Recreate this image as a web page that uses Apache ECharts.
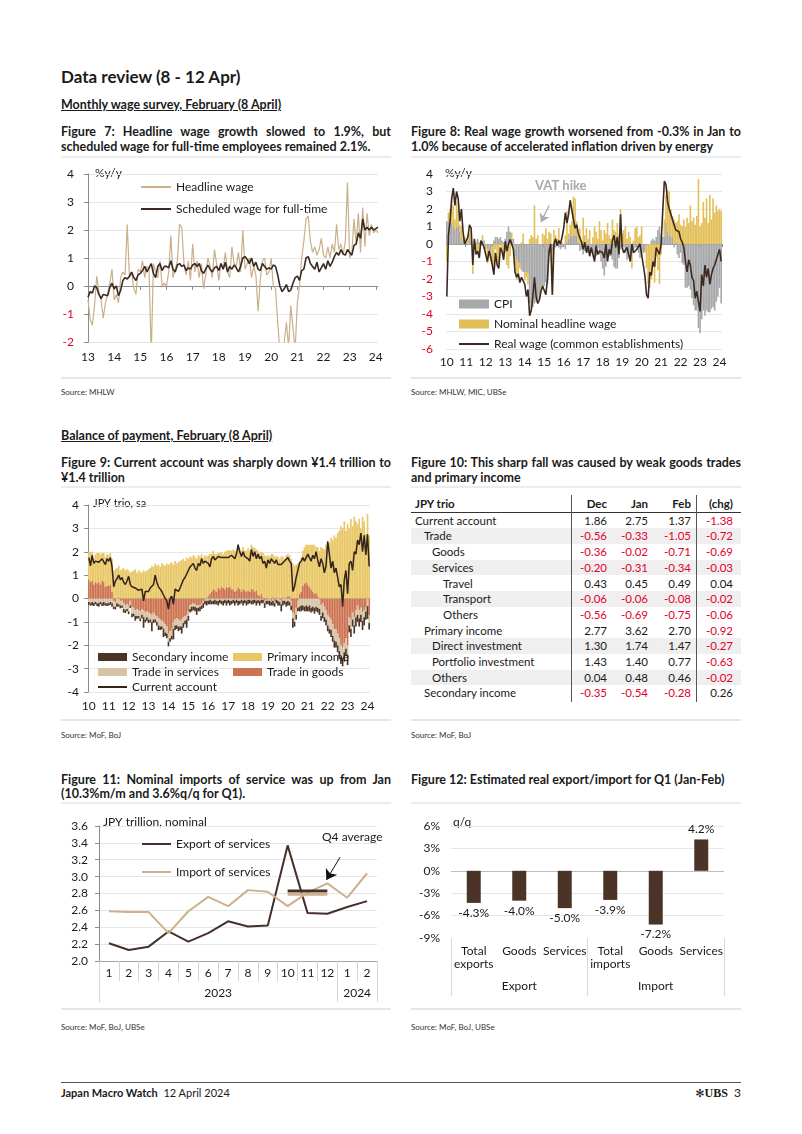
<!DOCTYPE html>
<html><head><meta charset="utf-8">
<script src="https://cdn.jsdelivr.net/npm/echarts@6/dist/echarts.min.js"></script>
<style>
body{margin:0;background:#fff;font-family:Lato,"Noto Sans",sans-serif;color:#1a1a1a;}
#page{position:relative;width:802px;height:1134px;overflow:hidden;background:#fff;}
.a{position:absolute;white-space:nowrap;}
.h1{font-size:17px;font-weight:bold;line-height:20px;}
.h2{font-size:12.5px;font-weight:bold;text-decoration:underline;line-height:15px;}
.ft{font-size:12.5px;font-weight:bold;line-height:15px;width:330px;}
.j{text-align:justify;text-align-last:justify;}
.rule{position:absolute;height:2px;background:#ececec;width:330px;}
.rule2{position:absolute;height:2px;background:#e6e6e6;width:330px;}
.src{font-size:8px;color:#333;line-height:10px;}
.chart{position:absolute;}
#tbl{position:absolute;left:411px;top:496px;width:330px;font-size:11.5px;}
.row{position:absolute;left:0;width:330px;height:15.7px;line-height:15.7px;}
.cell{position:absolute;top:0;text-align:right;}
</style></head>
<body><div id="page">
<div class="a h1" style="left:61px;top:67px;">Data review (8 - 12 Apr)</div>
<div class="a h2" style="left:61px;top:97px;">Monthly wage survey, February (8 April)</div>
<div class="a ft j" style="left:61px;top:124px;">Figure 7: Headline wage growth slowed to 1.9%, but</div>
<div class="a ft" style="left:61px;top:139px;">scheduled wage for full-time employees remained 2.1%.</div>
<div class="a ft j" style="left:411px;top:124px;">Figure 8: Real wage growth worsened from -0.3% in Jan to</div>
<div class="a ft" style="left:411px;top:139px;">1.0% because of accelerated inflation driven by energy</div>
<div class="rule" style="left:61px;top:156px;"></div>
<div class="rule" style="left:411px;top:156px;"></div>
<div id="c7" class="chart" style="left:55px;top:160px;width:345px;height:217px;"></div>
<div id="c8" class="chart" style="left:405px;top:160px;width:345px;height:217px;"></div>
<div class="rule2" style="left:61px;top:377px;"></div>
<div class="rule2" style="left:411px;top:377px;"></div>
<div class="a src" style="left:61px;top:387px;">Source: MHLW</div>
<div class="a src" style="left:411px;top:387px;">Source: MHLW, MIC, UBSe</div>

<div class="a h2" style="left:61px;top:428px;">Balance of payment, February (8 April)</div>
<div class="a ft j" style="left:61px;top:455px;">Figure 9: Current account was sharply down ¥1.4 trillion to</div>
<div class="a ft" style="left:61px;top:469.5px;">¥1.4 trillion</div>
<div class="a ft j" style="left:411px;top:455px;">Figure 10: This sharp fall was caused by weak goods trades</div>
<div class="a ft" style="left:411px;top:469.5px;">and primary income</div>
<div class="rule" style="left:61px;top:486px;"></div>
<div class="rule" style="left:411px;top:486px;"></div>
<div id="c9" class="chart" style="left:55px;top:490px;width:345px;height:228px;"></div>
<div id="tbl"></div>
<div class="rule2" style="left:61px;top:719px;"></div>
<div class="rule2" style="left:411px;top:719px;"></div>
<div class="a src" style="left:61px;top:730px;">Source: MoF, BoJ</div>
<div class="a src" style="left:411px;top:730px;">Source: MoF, BoJ</div>

<div class="a ft j" style="left:61px;top:771.5px;">Figure 11: Nominal imports of service was up from Jan</div>
<div class="a ft" style="left:61px;top:786px;">(10.3%m/m and 3.6%q/q for Q1).</div>
<div class="a ft" style="left:411px;top:771.5px;">Figure 12: Estimated real export/import for Q1 (Jan-Feb)</div>
<div class="rule" style="left:61px;top:802px;"></div>
<div class="rule" style="left:411px;top:802px;"></div>
<div id="c11" class="chart" style="left:55px;top:806px;width:345px;height:202px;"></div>
<div id="c12" class="chart" style="left:405px;top:806px;width:345px;height:202px;"></div>
<div class="rule2" style="left:61px;top:1008px;"></div>
<div class="rule2" style="left:411px;top:1008px;"></div>
<div class="a src" style="left:61px;top:1022px;">Source: MoF, BoJ, UBSe</div>
<div class="a src" style="left:411px;top:1022px;">Source: MoF, BoJ, UBSe</div>

<div style="position:absolute;left:61px;top:1082px;width:680px;height:1px;background:#555;"></div>
<div class="a" style="left:61px;top:1086px;font-size:11px;line-height:14px;"><b>Japan Macro Watch</b>&nbsp;&nbsp;12 April 2024</div>
<div class="a" style="right:61px;top:1085px;font-size:12px;line-height:15px;"><span style="font-family:'DejaVu Sans';font-size:11px;">✻</span><b style="font-family:'Liberation Serif';">UBS</b>&nbsp;&nbsp;3</div>
</div>
<script>
// ---------- DATA ----------
// Figure 7 (monthly, Jan 2013 - Feb 2024), %y/y
const headline7 = [].concat(
 [-0.5,-1.2,-1.4,-0.7,0.35,-0.2,-0.5,-1.15,-0.6,-0.3,0.1,0.6],
 [-0.5,-0.3,-0.6,0.3,0.5,0.4,2.2,0.3,0.5,-0.1,-0.3,0.6],
 [0.5,0.9,0.3,0.7,0.6,-2.5,0.8,0.5,0.3,0.9,0.0,0.1],
 [0.0,0.5,1.8,0.3,0.6,0.9,2.2,2.1,0.8,0.4,0.9,0.2],
 [1.5,0.5,0.9,0.3,0.8,-0.1,0.4,1.0,0.7,0.3,1.3,0.8],
 [0.2,0.8,0.6,1.2,0.5,0.3,1.4,0.8,0.7,1.2,0.5,2.0],
 [0.6,0.8,1.0,0.3,0.7,0.4,-0.9,0.2,0.9,1.0,0.4,0.5],
 [1.0,0.0,-0.1,-1.3,-2.3,-2.5,-2.0,-1.3,-2.2,-0.7,-1.5,-2.3],
 [-0.6,0.0,1.0,1.6,2.4,2.5,1.6,1.2,1.4,1.1,1.3,1.7],
 [1.1,1.0,1.4,1.0,1.5,1.2,2.2,1.3,1.5,1.1,1.6,3.7],
 [1.0,1.2,2.4,1.5,2.6,1.2,2.8,1.4,2.6,1.8,2.2,1.9],
 [2.0,1.9]);
const scheduled7 = [].concat(
 [-0.4,-0.2,-0.25,0.0,-0.05,-0.3,-0.45,-0.3,-0.32,-0.35,-0.05,0.1],
 [-0.1,0.0,-0.35,-0.15,0.2,0.3,0.25,0.35,0.5,0.3,0.2,0.4],
 [0.45,0.55,0.7,0.5,0.65,0.8,0.45,0.3,0.7,0.8,0.55,0.7],
 [0.7,0.65,0.9,0.6,0.5,0.75,0.8,0.7,0.75,0.55,0.65,0.6],
 [0.75,0.8,0.7,0.8,0.55,0.45,0.6,0.75,0.6,0.5,0.65,0.7],
 [0.55,0.8,0.6,0.85,0.5,0.7,0.6,0.75,0.65,0.5,0.7,1.0],
 [1.05,0.95,0.8,1.0,0.7,0.85,0.6,0.55,0.8,0.7,0.6,0.65],
 [0.6,0.75,0.7,0.4,0.0,-0.2,-0.1,0.05,-0.2,-0.15,0.1,0.3],
 [0.35,0.2,0.55,0.6,1.0,1.05,0.8,0.7,0.6,0.85,0.5,0.65],
 [0.8,0.6,0.9,0.7,0.85,1.05,1.2,1.1,1.3,1.15,1.1,1.3],
 [1.2,1.1,1.45,1.5,1.9,1.7,2.4,2.0,2.1,2.0,2.1,2.0],
 [2.05,2.1]);

// Figure 8 (monthly, Jan 2010 - Feb 2024), %y/y
const nominalPre2013 = [].concat(
 [-1.0,0.5,0.8,1.5,1.2,0.6,1.4,1.0,0.4,0.9,0.3,0.1],
 [0.2,0.5,0.3,0.6,-1.7,0.2,-0.3,-0.4,-0.5,0.1,0.3,-0.3],
 [-0.2,-0.8,-0.3,-0.5,-0.9,-1.5,-0.3,-1.0,-1.2,-0.1,-0.3,-0.8]);
const nominal8 = nominalPre2013.concat(headline7);
const cpi8 = [].concat(
 [1.3,1.3,1.2,1.2,1.0,0.8,1.0,1.0,0.7,0.1,0.3,0.3],
 [0.1,0.0,0.3,0.2,0.0,-0.2,0.1,0.3,0.1,-0.1,0.2,0.2],
 [-0.1,-0.3,-0.5,-0.5,-0.2,0.2,0.4,0.4,0.3,0.4,0.2,0.1],
 [0.3,0.7,1.0,0.7,0.3,0.3,-0.7,-0.9,-1.1,-1.1,-1.5,-1.6],
 [-1.6,-1.6,-1.7,-3.4,-3.7,-3.6,-3.4,-3.3,-3.2,-2.9,-2.4,-2.4],
 [-2.4,-2.2,-2.3,-0.6,-0.5,-0.4,-0.3,-0.2,0.0,-0.2,-0.3,-0.2],
 [-0.1,-0.3,0.1,0.3,0.5,0.4,0.5,0.5,0.5,0.1,-0.4,-0.3],
 [-0.6,-0.4,-0.3,-0.5,-0.5,-0.4,-0.5,-0.7,-0.7,-0.2,-0.6,-1.0],
 [-1.4,-1.8,-1.3,-0.7,-0.7,-0.7,-0.9,-1.3,-1.4,-1.4,-0.8,-0.3],
 [-0.2,-0.2,-0.5,-0.9,-0.7,-0.7,-0.5,-0.3,-0.2,-0.2,-0.5,-0.8],
 [-0.7,-0.5,-0.4,-0.1,0.0,0.0,0.2,0.3,0.2,0.4,0.8,1.0],
 [0.6,0.4,0.4,1.2,0.7,0.5,0.4,0.4,-0.2,0.1,-0.6,-0.8],
 [-0.5,-1.1,-1.2,-2.5,-2.5,-2.4,-2.6,-3.1,-3.5,-3.8,-3.8,-4.8],
 [-5.1,-4.3,-3.8,-4.1,-3.8,-3.9,-3.9,-3.7,-3.6,-3.8,-3.3,-3.0],
 [-2.5,-3.4]);
const real8 = [].concat(
 [-3.0,0.5,1.3,2.6,3.2,2.2,3.0,2.6,1.3,2.0,0.7,0.0],
 [-0.1,0.4,1.1,0.9,-1.2,0.3,-0.6,-0.4,-0.8,0.2,0.2,-0.2],
 [-0.2,-1.0,-0.4,-0.7,-1.2,-1.75,-0.5,-1.2,-1.4,-0.2,-0.4,-0.9],
 [0.15,-0.4,0.0,0.25,0.0,-0.3,-1.6,-1.9,-1.7,-2.2,-1.9,-2.1],
 [-2.3,-3.0,-2.6,-4.1,-3.8,-3.0,-1.9,-3.0,-3.4,-3.2,-2.7,-2.4],
 [-2.5,-2.9,-2.0,-0.4,0.0,-2.9,0.0,0.3,-0.1,0.2,0.0,0.4],
 [0.9,1.8,1.2,1.7,2.5,2.4,1.4,0.9,1.1,0.6,0.5,0.1],
 [-0.3,0.1,-0.5,-0.1,-0.7,-0.2,-0.6,-1.0,-0.1,-0.6,-0.4,-0.5],
 [-0.5,-0.8,0.0,-1.0,-0.3,-0.6,0.2,0.5,-0.2,0.4,-0.6,1.7],
 [-0.2,-0.5,-0.6,-0.2,-0.6,-1.0,0.0,-0.5,-0.5,-0.3,-0.2,0.0],
 [-0.1,-1.2,-1.8,-2.9,-3.1,-1.6,-1.8,-1.0,-1.3,-0.2,-0.4,-0.6],
 [0.0,1.9,3.6,3.4,2.4,2.0,1.7,1.4,1.1,0.8,0.9,0.7],
 [0.3,0.1,-0.2,-1.0,-1.6,-0.9,-1.2,-1.9,-2.1,-3.1,-2.7,-3.3],
 [-3.85,-1.75,-2.4,-1.2,-1.9,-1.4,-2.3,-1.75,-1.4,-1.2,-0.9,-1.0],
 [-0.3,-1.0]);

// Figure 9 (monthly, Jan 2010 - Feb 2024), JPY trillion sa
const goods9 = [].concat(
 [0.8,0.7,0.75,0.6,0.7,0.65,0.7,0.6,0.75,0.7,0.5,0.55],
 [0.55,0.6,0.3,-0.1,-0.15,0.0,0.05,-0.1,-0.1,-0.2,-0.3,-0.25],
 [-0.3,-0.1,-0.35,-0.4,-0.5,-0.45,-0.5,-0.55,-0.45,-0.5,-0.6,-0.55],
 [-0.6,-0.65,-0.7,-0.6,-0.7,-0.75,-0.85,-0.9,-0.95,-1.0,-1.1,-1.2],
 [-1.5,-1.4,-1.3,-1.0,-0.9,-0.85,-0.9,-0.95,-0.9,-0.8,-0.75,-0.7],
 [-0.55,-0.3,-0.25,-0.2,-0.25,-0.3,-0.3,-0.3,-0.2,-0.1,-0.05,0.0],
 [0.1,0.2,0.3,0.4,0.35,0.3,0.45,0.4,0.5,0.45,0.4,0.5],
 [0.45,0.5,0.4,0.4,0.3,0.35,0.45,0.4,0.3,0.4,0.35,0.3],
 [0.35,0.3,0.4,0.4,0.3,0.35,0.15,0.1,0.2,0.05,-0.1,-0.05],
 [-0.05,0.0,-0.1,0.05,-0.1,0.05,0.0,-0.05,-0.1,0.05,0.0,0.05],
 [0.1,0.1,-0.1,-0.6,-0.7,-0.4,-0.1,0.2,0.3,0.55,0.65,0.7],
 [0.6,0.5,0.4,0.3,0.2,0.25,0.1,-0.05,-0.3,-0.2,-0.35,-0.5],
 [-0.7,-0.8,-0.9,-1.1,-1.3,-1.3,-1.5,-1.7,-2.0,-2.1,-1.9,-1.7],
 [-2.0,-0.8,-0.9,-0.6,-0.8,-0.5,-0.3,-0.5,-0.4,-0.6,-0.5,-0.36],
 [-0.02,-0.71]);
const services9 = [].concat(
 [-0.15,-0.2,-0.15,-0.2,-0.15,-0.2,-0.2,-0.15,-0.2,-0.15,-0.2,-0.2],
 [-0.2,-0.15,-0.2,-0.25,-0.2,-0.2,-0.25,-0.2,-0.2,-0.25,-0.2,-0.2],
 [-0.25,-0.2,-0.3,-0.25,-0.25,-0.3,-0.25,-0.3,-0.25,-0.3,-0.3,-0.25],
 [-0.3,-0.25,-0.3,-0.3,-0.2,-0.25,-0.3,-0.3,-0.25,-0.3,-0.35,-0.3],
 [-0.35,-0.3,-0.3,-0.3,-0.25,-0.3,-0.3,-0.25,-0.3,-0.25,-0.2,-0.2],
 [-0.2,-0.15,-0.1,-0.15,-0.1,-0.1,-0.1,-0.05,-0.1,-0.1,-0.05,-0.1],
 [-0.1,-0.05,-0.1,-0.1,-0.05,-0.1,-0.1,-0.05,-0.1,-0.1,-0.05,-0.1],
 [-0.05,-0.1,-0.1,-0.05,-0.1,-0.05,-0.1,-0.1,-0.05,-0.1,-0.05,-0.1],
 [-0.05,-0.05,-0.1,-0.05,-0.05,-0.1,-0.05,-0.1,-0.05,-0.05,-0.1,-0.05],
 [-0.05,-0.1,-0.05,-0.1,-0.1,-0.05,-0.1,-0.1,-0.15,-0.1,-0.1,-0.15],
 [-0.1,-0.15,-0.2,-0.25,-0.3,-0.3,-0.3,-0.35,-0.3,-0.3,-0.35,-0.3],
 [-0.35,-0.3,-0.4,-0.35,-0.4,-0.35,-0.4,-0.4,-0.45,-0.4,-0.45,-0.4],
 [-0.45,-0.5,-0.45,-0.5,-0.5,-0.55,-0.5,-0.55,-0.5,-0.45,-0.4,-0.45],
 [-0.4,-0.35,-0.4,-0.3,-0.35,-0.3,-0.4,-0.35,-0.3,-0.35,-0.3,-0.2],
 [-0.31,-0.34]);
const primary9 = [].concat(
 [1.2,1.3,1.25,1.1,1.2,1.3,1.25,1.3,1.2,1.25,1.3,1.35],
 [1.3,1.35,1.4,1.2,1.25,1.3,1.35,1.2,1.25,1.3,1.2,1.25],
 [1.2,1.1,1.15,1.2,1.25,1.1,1.2,1.15,1.1,1.2,1.15,1.2],
 [1.25,1.3,1.4,1.35,1.5,1.4,1.45,1.35,1.5,1.45,1.4,1.5],
 [1.45,1.5,1.55,1.45,1.6,1.5,1.55,1.6,1.65,1.7,1.6,1.75],
 [1.7,1.8,1.75,1.85,1.8,1.7,1.85,1.8,1.9,1.75,1.85,1.8],
 [1.75,1.7,1.6,1.65,1.55,1.6,1.5,1.55,1.5,1.45,1.6,1.55],
 [1.6,1.55,1.65,1.7,1.75,1.65,1.85,1.7,1.75,1.8,1.7,1.75],
 [1.8,1.75,1.9,1.8,1.85,1.75,1.9,1.85,1.8,1.9,1.85,1.8],
 [1.85,1.8,1.9,1.85,1.8,1.75,1.8,1.7,1.8,1.75,1.7,1.8],
 [1.8,1.75,1.7,1.5,1.4,1.45,1.5,1.4,1.45,1.5,1.55,1.6],
 [1.7,1.8,1.9,2.0,2.1,1.95,2.1,2.05,2.2,2.15,2.1,2.3],
 [2.2,2.4,2.6,2.5,2.7,2.6,2.8,2.9,3.1,3.0,3.3,2.9],
 [3.2,3.0,3.4,3.1,3.5,3.3,3.2,3.4,3.0,3.5,3.3,2.77],
 [3.62,2.70]);
const secondary9 = [].concat(
 [-0.12,-0.1,-0.15,-0.12,-0.1,-0.12,-0.15,-0.1,-0.12,-0.15,-0.1,-0.12],
 [-0.1,-0.12,-0.15,-0.1,-0.12,-0.15,-0.1,-0.12,-0.1,-0.15,-0.12,-0.1],
 [-0.12,-0.1,-0.15,-0.12,-0.2,-0.12,-0.1,-0.12,-0.15,-0.45,-0.12,-0.15],
 [-0.15,-0.12,-0.4,-0.15,-0.12,-0.15,-0.2,-0.15,-0.12,-0.35,-0.15,-0.2],
 [-0.2,-0.15,-0.15,-0.45,-0.2,-0.15,-0.2,-0.15,-0.3,-0.2,-0.15,-0.35],
 [-0.2,-0.15,-0.2,-0.15,-0.2,-0.3,-0.15,-0.2,-0.15,-0.2,-0.15,-0.2],
 [-0.15,-0.2,-0.15,-0.15,-0.2,-0.15,-0.2,-0.15,-0.15,-0.2,-0.15,-0.2],
 [-0.15,-0.2,-0.15,-0.15,-0.2,-0.15,-0.2,-0.15,-0.15,-0.2,-0.15,-0.2],
 [-0.2,-0.15,-0.15,-0.2,-0.15,-0.2,-0.15,-0.2,-0.15,-0.15,-0.2,-0.15],
 [-0.15,-0.2,-0.15,-0.2,-0.15,-0.15,-0.2,-0.15,-0.3,-0.2,-0.15,-0.2],
 [-0.2,-0.15,-0.2,-0.4,-0.2,-0.2,-0.15,-0.2,-0.25,-0.2,-0.2,-0.25],
 [-0.2,-0.25,-0.2,-0.2,-0.25,-0.2,-0.2,-0.25,-0.2,-0.25,-0.2,-0.25],
 [-0.25,-0.2,-0.3,-0.25,-0.3,-0.25,-0.3,-0.35,-0.3,-0.35,-0.4,-0.3],
 [-0.45,-0.3,-0.35,-0.3,-0.35,-0.4,-0.3,-0.35,-0.3,-0.4,-0.35,-0.35],
 [-0.54,-0.28]);
const current9 = [].concat(
 [1.75,1.4,1.85,1.5,1.6,1.65,1.55,1.6,1.7,1.65,1.45,1.7],
 [1.6,1.75,1.35,0.5,0.75,0.85,1.0,0.8,0.9,0.7,0.6,0.75],
 [0.95,0.6,0.5,0.55,0.45,0.5,0.35,0.3,0.4,-0.1,0.3,0.35],
 [0.3,0.45,0.4,0.6,1.0,0.7,0.5,0.4,0.3,0.15,0.0,-0.1],
 [-0.45,0.0,0.1,-0.25,0.4,0.35,0.3,0.45,0.5,0.8,0.9,1.05],
 [1.0,1.35,1.3,1.5,1.3,1.2,1.5,1.4,1.7,1.5,1.6,1.55],
 [1.5,1.35,1.7,1.8,1.65,1.7,1.8,1.75,1.75,1.7,1.75,1.8],
 [1.75,1.7,1.85,1.8,1.7,1.9,2.3,2.0,1.8,2.0,1.8,1.75],
 [1.7,1.6,2.1,1.8,2.0,1.7,1.9,1.7,1.8,1.5,1.6,1.3],
 [1.65,1.5,1.7,1.6,1.5,1.65,1.45,1.5,1.45,1.5,1.6,1.65],
 [1.75,1.6,1.5,0.3,0.5,0.9,1.2,1.5,1.6,1.75,1.6,1.55],
 [1.9,1.75,1.6,1.85,1.7,2.0,1.65,1.35,1.7,1.5,1.1,1.4],
 [2.45,1.9,1.3,1.6,1.1,1.3,0.9,0.5,0.6,-0.35,0.8,1.2],
 [0.2,1.5,1.6,1.2,2.0,1.9,2.5,2.3,2.8,2.0,2.7,1.86],
 [2.75,1.37]);

// Figure 10 table
const tblLabels = ['Current account','Trade','Goods','Services','Travel','Transport','Others','Primary income','Direct investment','Portfolio investment','Others','Secondary income'];
const tblLevel  = [0,1,2,2,3,3,3,1,2,2,2,1];
const tblDec = [1.86,-0.56,-0.36,-0.20,0.43,-0.06,-0.56,2.77,1.30,1.43,0.04,-0.35];
const tblJan = [2.75,-0.33,-0.02,-0.31,0.45,-0.06,-0.69,3.62,1.74,1.40,0.48,-0.54];
const tblFeb = [1.37,-1.05,-0.71,-0.34,0.49,-0.08,-0.75,2.70,1.47,0.77,0.46,-0.28];
const tblChg = [-1.38,-0.72,-0.69,-0.03,0.04,-0.02,-0.06,-0.92,-0.27,-0.63,-0.02,0.26];
const tblHeader = ['JPY trio','Dec','Jan','Feb','(chg)'];

// Figure 11
const months11 = ['1','2','3','4','5','6','7','8','9','10','11','12','1','2'];
const years11 = ['2023','2024'];
const export11 = [2.21,2.13,2.17,2.35,2.23,2.33,2.47,2.41,2.42,3.37,2.57,2.56,2.64,2.71];
const import11 = [2.59,2.58,2.58,2.33,2.59,2.76,2.65,2.84,2.82,2.65,2.81,2.92,2.75,3.04];
const q4Export11 = [null,null,null,null,null,null,null,null,null,2.83,2.83,2.83,null,null];
const q4Import11 = [null,null,null,null,null,null,null,null,null,2.79,2.79,2.79,null,null];

// Figure 12
const cats12 = ['Total\nexports','Goods','Services','Total\nimports','Goods','Services'];
const groups12 = ['Export','Import'];
const values12 = [-4.3,-4.0,-5.0,-3.9,-7.2,4.2];

// ---------- HELPERS ----------
function monthCats(y0, y1, lastM){const a=[];for(let y=y0;y<=y1;y++){for(let m=1;m<=12;m++){if(y===y1&&m>lastM)break;a.push(y+'-'+(m<10?'0':'')+m);}}return a;}
const FONT = 'Lato, "Noto Sans", sans-serif';
const TXT = '#1a1a1a', RED = '#e4002b', GRIDC = '#e6e6e6', AXC = '#8c8c8c';
const yearTick = (i)=> i%12===0;
const yy = (v)=> v.slice(2,4);
const negRed = (v)=> Number(v) < 0 ? RED : TXT;
const base = {animation:false, textStyle:{fontFamily:FONT}};

// ---------- TABLE ----------
(function(){
  const t = document.getElementById('tbl');
  const indentPx = [4,13,21,32];
  const shaded = [1,3,5,8,10];
  const colRight = [196,237,280,322]; // right edges relative to table
  let h = '';
  h += '<div class="row" style="top:0;height:16px;line-height:16px;font-weight:bold;border-bottom:1.5px solid #333;">';
  h += '<span class="cell" style="left:4px;text-align:left;">'+tblHeader[0]+'</span>';
  for(let c=0;c<4;c++) h += '<span class="cell" style="right:'+(330-colRight[c])+'px;">'+tblHeader[c+1]+'</span>';
  h += '</div>';
  const fmt = v => v.toFixed(2);
  for(let r=0;r<tblLabels.length;r++){
    const top = 16.7 + r*15.7;
    const bg = shaded.indexOf(r)>=0 ? '#efefef' : 'transparent';
    h += '<div class="row" style="top:'+top+'px;background:'+bg+';">';
    h += '<span class="cell" style="left:'+indentPx[tblLevel[r]]+'px;text-align:left;">'+tblLabels[r]+'</span>';
    const vals = [tblDec[r],tblJan[r],tblFeb[r],tblChg[r]];
    for(let c=0;c<4;c++){
      h += '<span class="cell" style="right:'+(330-colRight[c])+'px;color:'+(vals[c]<0?RED:TXT)+';">'+fmt(vals[c])+'</span>';
    }
    h += '</div>';
  }
  h += '<div style="position:absolute;left:160px;top:-1px;width:1.2px;height:207px;background:#555;"></div>';
  h += '<div style="position:absolute;left:285px;top:-1px;width:1.2px;height:207px;background:#555;"></div>';
  t.innerHTML = h;
})();

// ---------- FIGURE 7 ----------
const m7 = monthCats(2013, 2024, 2);
echarts.init(document.getElementById('c7')).setOption(Object.assign({}, base, {
  grid:{left:33,right:22,top:14,bottom:35,outerBoundsMode:'none'},
  legend:{orient:'vertical',left:80,top:16,itemWidth:30,itemHeight:14,itemGap:10,textStyle:{fontSize:12,color:TXT,fontFamily:FONT},
    data:[{name:'Headline wage',itemStyle:{opacity:0}},{name:'Scheduled wage for full-time',itemStyle:{opacity:0}}]},
  graphic:[{type:'text',left:40,top:7,style:{text:'%y/y',fontSize:12,fill:TXT,fontFamily:FONT}}],
  xAxis:[
    {type:'category',data:m7,boundaryGap:false,position:'bottom',axisLine:{onZero:true,lineStyle:{color:AXC}},axisTick:{show:true,interval:yearTick,length:4,lineStyle:{color:AXC}},axisLabel:{show:false},splitLine:{show:false}},
    {type:'category',data:m7,boundaryGap:false,position:'bottom',axisLine:{show:false,onZero:false},axisTick:{show:false},axisLabel:{interval:yearTick,formatter:yy,margin:9,fontSize:12,color:TXT},splitLine:{show:false}}
  ],
  yAxis:{type:'value',min:-2,max:4,interval:1,axisLine:{show:true,lineStyle:{color:AXC}},axisTick:{show:true,length:4,lineStyle:{color:AXC}},axisLabel:{margin:14,fontSize:12,color:negRed},splitLine:{lineStyle:{color:GRIDC}}},
  series:[
    {name:'Headline wage',type:'line',data:headline7,symbol:'none',lineStyle:{color:'#c9b08b',width:1.2},itemStyle:{color:'#c9b08b'}},
    {name:'Scheduled wage for full-time',type:'line',data:scheduled7,symbol:'none',lineStyle:{color:'#3b2a22',width:1.6},itemStyle:{color:'#3b2a22'}}
  ]
}));

// ---------- FIGURE 8 ----------
const m8 = monthCats(2010, 2024, 2);
echarts.init(document.getElementById('c8')).setOption(Object.assign({}, base, {
  grid:{left:41,right:28,top:14,bottom:28,outerBoundsMode:'none'},
  legend:{orient:'vertical',left:48,top:133,itemWidth:30,itemHeight:9,itemGap:8,textStyle:{fontSize:12,color:TXT,fontFamily:FONT},
    data:[{name:'CPI',icon:'rect'},{name:'Nominal headline wage',icon:'rect'},{name:'Real wage (common establishments)',itemStyle:{opacity:0}}]},
  graphic:[
    {type:'text',left:40,top:7,style:{text:'%y/y',fontSize:12,fill:TXT,fontFamily:FONT}},
    {type:'text',left:130,top:19,style:{text:'VAT hike',fontSize:13,fontWeight:'bold',fill:'#a9a9a9',fontFamily:FONT}}
  ],
  xAxis:[
    {type:'category',data:m8,position:'bottom',axisLine:{onZero:true,lineStyle:{color:'#a0a0a0'}},axisTick:{show:true,interval:yearTick,length:3,lineStyle:{color:AXC}},axisLabel:{show:false}},
    {type:'category',data:m8,position:'bottom',axisLine:{show:false,onZero:false},axisTick:{show:false},axisLabel:{interval:yearTick,formatter:yy,margin:7,fontSize:12,color:TXT}}
  ],
  yAxis:{type:'value',min:-6,max:4,interval:1,axisLine:{show:false},axisTick:{show:false},axisLabel:{margin:13,fontSize:12,color:negRed},splitLine:{lineStyle:{color:GRIDC}}},
  series:[
    {name:'CPI',type:'bar',stack:'w',data:cpi8,barCategoryGap:'0%',itemStyle:{color:'#a8a8aa'}},
    {name:'Nominal headline wage',type:'bar',stack:'w',data:nominal8,barCategoryGap:'0%',itemStyle:{color:'#e3bf57'}},
    {name:'Real wage (common establishments)',type:'line',data:real8,symbol:'none',lineStyle:{color:'#3b2a22',width:1.6},itemStyle:{color:'#3b2a22'},
     markLine:{silent:true,symbol:['none','arrow'],symbolSize:8,label:{show:false},lineStyle:{color:'#a9a9a9',width:1.3,type:'solid'},
       data:[[{coord:[63,2.2]},{coord:[58,1.25]}]]}}
  ]
}));

// ---------- FIGURE 9 ----------
const m9 = monthCats(2010, 2024, 2);
echarts.init(document.getElementById('c9')).setOption(Object.assign({}, base, {
  grid:{left:33,right:30,top:15,bottom:26,outerBoundsMode:'none'},
  legend:[
    {orient:'vertical',left:37,top:156,itemWidth:29,itemHeight:8,itemGap:3,textStyle:{fontSize:12,color:TXT,fontFamily:FONT},
      data:[{name:'Secondary income',icon:'rect'},{name:'Trade in services',icon:'rect'},{name:'Current account',itemStyle:{opacity:0}}]},
    {orient:'vertical',left:173,top:156,itemWidth:29,itemHeight:8,itemGap:3,textStyle:{fontSize:12,color:TXT,fontFamily:FONT},
      data:[{name:'Primary income',icon:'rect'},{name:'Trade in goods',icon:'rect'}]}
  ],
  graphic:[{type:'text',left:38,top:8,style:{text:'JPY trio, sa',fontSize:11,fill:TXT,fontFamily:FONT}}],
  xAxis:[
    {type:'category',data:m9,position:'bottom',axisLine:{onZero:true,lineStyle:{color:'#9a9a9a'}},axisTick:{show:false},axisLabel:{show:false}},
    {type:'category',data:m9,position:'bottom',axisLine:{show:false,onZero:false},axisTick:{show:false},axisLabel:{interval:yearTick,formatter:yy,margin:8,fontSize:12,color:TXT}}
  ],
  yAxis:{type:'value',min:-4,max:4,interval:1,axisLine:{show:true,lineStyle:{color:AXC}},axisTick:{show:true,length:4,lineStyle:{color:AXC}},axisLabel:{margin:9,fontSize:12,color:TXT},splitLine:{lineStyle:{color:GRIDC}}},
  series:[
    {name:'Trade in goods',type:'bar',stack:'ca',data:goods9,barCategoryGap:'0%',itemStyle:{color:'#cd7352'}},
    {name:'Trade in services',type:'bar',stack:'ca',data:services9,barCategoryGap:'0%',itemStyle:{color:'#d8c3a5'}},
    {name:'Primary income',type:'bar',stack:'ca',data:primary9,barCategoryGap:'0%',itemStyle:{color:'#e8c766'}},
    {name:'Secondary income',type:'bar',stack:'ca',data:secondary9,barCategoryGap:'0%',itemStyle:{color:'#4a3426'}},
    {name:'Current account',type:'line',data:current9,symbol:'none',lineStyle:{color:'#33231c',width:1.5},itemStyle:{color:'#33231c'}}
  ]
}));

// ---------- FIGURE 11 ----------
echarts.init(document.getElementById('c11')).setOption(Object.assign({}, base, {
  grid:{left:44,right:23,top:20,bottom:47,outerBoundsMode:'none'},
  legend:{orient:'vertical',left:81,top:27,itemWidth:29,itemHeight:14,itemGap:16,textStyle:{fontSize:12,color:TXT,fontFamily:FONT},
    data:[{name:'Export of services',itemStyle:{opacity:0}},{name:'Import of services',itemStyle:{opacity:0}}]},
  graphic:[
    {type:'text',left:48,top:10,style:{text:'JPY trillion, nominal',fontSize:12,fill:TXT,fontFamily:FONT}},
    {type:'text',left:267,top:25,style:{text:'Q4 average',fontSize:12,fill:TXT,fontFamily:FONT}}
  ],
  xAxis:[
    {type:'category',data:months11,position:'bottom',axisLine:{lineStyle:{color:'#a6a6a6'}},axisTick:{show:true,interval:0,length:20,lineStyle:{color:'#d4d4d4'}},axisLabel:{interval:0,margin:6,fontSize:12,color:TXT}},
    {type:'value',min:0,max:months11.length,position:'bottom',axisLine:{show:false,onZero:false},splitLine:{show:false},
      axisTick:{show:true,customValues:[0,12,14],length:41,lineStyle:{color:'#d4d4d4'}},
      axisLabel:{customValues:[6,13],formatter:(v)=> v<12 ? years11[0] : years11[1],margin:26,fontSize:12,color:TXT}}
  ],
  yAxis:{type:'value',min:2.0,max:3.6,interval:0.2,axisLine:{show:true,lineStyle:{color:AXC}},axisTick:{show:true,length:4,lineStyle:{color:AXC}},axisLabel:{margin:11,fontSize:12,color:TXT,formatter:(v)=>Number(v).toFixed(1)},splitLine:{lineStyle:{color:GRIDC}}},
  series:[
    {name:'Export of services',type:'line',data:export11,symbol:'none',lineStyle:{color:'#45302a',width:2},itemStyle:{color:'#45302a'}},
    {name:'Import of services',type:'line',data:import11,symbol:'none',lineStyle:{color:'#cdb08d',width:2},itemStyle:{color:'#cdb08d'}},
    {name:'Q4 avg export',type:'line',data:q4Export11,symbol:'none',lineStyle:{color:'#45302a',width:3},itemStyle:{color:'#45302a'}},
    {name:'Q4 avg import',type:'line',data:q4Import11,symbol:'none',lineStyle:{color:'#cdb08d',width:3},itemStyle:{color:'#cdb08d'}},
    {name:'arrow',type:'line',xAxisIndex:1,data:[],symbol:'none',
     markLine:{silent:true,symbol:['none','arrow'],symbolSize:10,label:{show:false},lineStyle:{color:'#111',width:1,type:'solid'},
       data:[[{coord:[12.14,3.23]},{coord:[11.45,2.96]}]]}}
  ]
}));

// ---------- FIGURE 12 ----------
echarts.init(document.getElementById('c12')).setOption(Object.assign({}, base, {
  grid:{left:46,right:26,top:20,bottom:70,outerBoundsMode:'none'},
  graphic:[{type:'text',left:48,top:10,style:{text:'q/q',fontSize:12,fill:TXT,fontFamily:FONT}}],
  xAxis:[
    {type:'category',data:cats12,position:'bottom',axisLine:{show:false,onZero:false},axisTick:{show:false},axisLabel:{interval:0,margin:7,fontSize:12,lineHeight:13,color:TXT}},
    {type:'value',min:0,max:cats12.length,position:'bottom',axisLine:{show:false,onZero:false},splitLine:{show:false},
      axisTick:{show:true,customValues:[0,3,6],length:58,lineStyle:{color:'#d9d9d9'}},
      axisLabel:{customValues:[1.5,4.5],formatter:(v)=> v<3 ? groups12[0] : groups12[1],margin:42,fontSize:12,color:TXT}}
  ],
  yAxis:{type:'value',min:-9,max:6,interval:3,axisLine:{show:false},axisTick:{show:false},
    axisLabel:{margin:11,fontSize:12,color:TXT,formatter:'{value}%'},
    splitLine:{lineStyle:{color:['transparent','#e6e6e6','#e6e6e6','#bdbdbd','#e6e6e6','#e6e6e6']}}},
  series:[
    {type:'bar',data:values12.map(v=>({value:v,label:{position:v<0?'bottom':'top'}})),barWidth:14,itemStyle:{color:'#4b3427'},
     label:{show:true,distance:4,fontSize:12,color:TXT,fontFamily:FONT,formatter:(p)=>p.value.toFixed(1)+'%'}}
  ]
}));
</script>
</body></html>
